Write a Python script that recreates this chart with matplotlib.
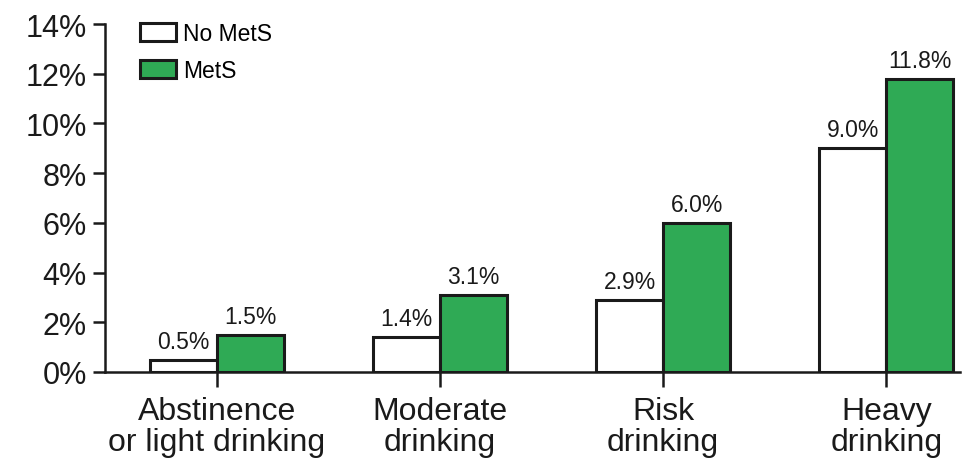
import matplotlib
matplotlib.use("Agg")
import matplotlib.pyplot as plt
from matplotlib.ticker import FuncFormatter

plt.rcParams['font.family'] = ['Liberation Sans', 'DejaVu Sans']

categories = ["Abstinence\nor light drinking", "Moderate\ndrinking", "Risk\ndrinking", "Heavy\ndrinking"]
no_mets = [0.5, 1.4, 2.9, 9.0]
mets = [1.5, 3.1, 6.0, 11.8]
series_labels = ["No MetS", "MetS"]
yticks = [0, 2, 4, 6, 8, 10, 12, 14]

green = '#2FAA55'
edge = '#1a1a1a'

fig = plt.figure(figsize=(9.66, 4.6), dpi=100)
ax = fig.add_axes([105/966, 1 - 373/460, 1 - 105/966 - 6/966, (373 - 25)/460])

x = list(range(len(categories)))
w = 0.30
b1 = ax.bar([i - w/2 for i in x], no_mets, w, color='white', edgecolor=edge, linewidth=2.2,
            label=series_labels[0], zorder=3)
b2 = ax.bar([i + w/2 for i in x], mets, w, color=green, edgecolor=edge, linewidth=2.2,
            label=series_labels[1], zorder=3)

for bars, vals in ((b1, no_mets), (b2, mets)):
    for rect, v in zip(bars, vals):
        ax.annotate(f"{v:.1f}%", (rect.get_x() + rect.get_width()/2, v),
                    xytext=(0, 5), textcoords='offset points',
                    ha='center', va='bottom', fontsize=16.5, color='#1a1a1a')

ax.set_ylim(0, 14)
ax.set_xlim(-0.5, 3.33)
ax.set_yticks(yticks)
ax.yaxis.set_major_formatter(FuncFormatter(lambda v, p: f"{v:.0f}%"))
ax.set_xticks(x)
ax.set_xticklabels(categories, fontsize=23, linespacing=1.05)
ax.tick_params(axis='y', labelsize=22, length=9, width=1.8, direction='out', pad=4, colors='#1a1a1a')
ax.tick_params(axis='x', length=11, width=1.8, direction='out', pad=6, colors='#1a1a1a')

for s in ('top', 'right'):
    ax.spines[s].set_visible(False)
for s in ('left', 'bottom'):
    ax.spines[s].set_linewidth(1.8)
    ax.spines[s].set_color('#1a1a1a')

ax.legend(loc='upper left', bbox_to_anchor=(140/966, 1 - 23/460), bbox_transform=fig.transFigure,
          frameon=False, fontsize=16.5, handlelength=1.57, handleheight=0.8,
          handletextpad=0.3, labelspacing=0.62, borderpad=0, borderaxespad=0)

fig.savefig("out.png", dpi=100)
